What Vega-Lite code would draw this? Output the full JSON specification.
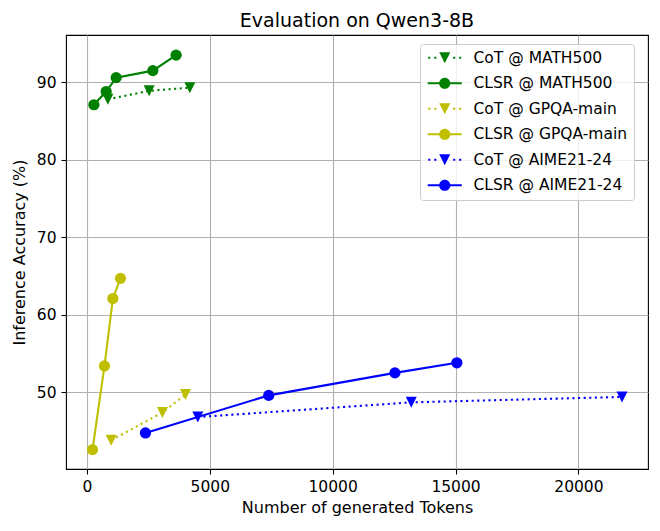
{
  "$schema": "https://vega.github.io/schema/vega-lite/v6.json",
  "width": 582,
  "height": 434,
  "autosize": {"type": "none"},
  "padding": {"left": 66, "top": 35, "right": 12, "bottom": 62},
  "background": "white",
  "title": {
    "text": "Evaluation on Qwen3-8B",
    "font": "DejaVu Sans",
    "fontSize": 19,
    "fontWeight": "normal",
    "color": "black",
    "anchor": "middle",
    "frame": "group",
    "baseline": "bottom",
    "offset": 4,
    "dy": 19
  },
  "config": {
    "view": {"stroke": "black", "strokeWidth": 1.1},
    "axis": {
      "domain": false,
      "grid": true,
      "gridColor": "#b0b0b0",
      "gridWidth": 1.1,
      "tickColor": "black",
      "tickWidth": 1.1,
      "tickSize": 5,
      "labelColor": "black",
      "labelFont": "DejaVu Sans",
      "labelFontSize": 15.5,
      "titleFont": "DejaVu Sans",
      "titleFontSize": 16,
      "titleFontWeight": "normal",
      "titleColor": "black"
    },
    "legend": {
      "orient": "none",
      "legendX": 354,
      "legendY": 9,
      "padding": 6,
      "fillColor": "rgba(255,255,255,0.8)",
      "strokeColor": "#cccccc",
      "cornerRadius": 3,
      "symbolSize": 196,
      "symbolStrokeWidth": 0,
      "symbolOpacity": 1,
      "symbolOffset": 11,
      "labelOffset": 21,
      "labelFont": "DejaVu Sans",
      "labelFontSize": 15.5,
      "labelColor": "black",
      "labelLimit": 300,
      "rowPadding": 8.5
    }
  },
  "data": {
    "values": [
      {"series": "CoT @ MATH500", "method": "CoT", "tokens": 854, "accuracy": 87.8},
      {"series": "CoT @ MATH500", "method": "CoT", "tokens": 2533, "accuracy": 88.9},
      {"series": "CoT @ MATH500", "method": "CoT", "tokens": 4187, "accuracy": 89.3},
      {"series": "CLSR @ MATH500", "method": "CLSR", "tokens": 285, "accuracy": 87.1},
      {"series": "CLSR @ MATH500", "method": "CLSR", "tokens": 785, "accuracy": 88.8},
      {"series": "CLSR @ MATH500", "method": "CLSR", "tokens": 1191, "accuracy": 90.6},
      {"series": "CLSR @ MATH500", "method": "CLSR", "tokens": 2683, "accuracy": 91.5},
      {"series": "CLSR @ MATH500", "method": "CLSR", "tokens": 3630, "accuracy": 93.5},
      {"series": "CoT @ GPQA-main", "method": "CoT", "tokens": 988, "accuracy": 43.8},
      {"series": "CoT @ GPQA-main", "method": "CoT", "tokens": 3075, "accuracy": 47.4},
      {"series": "CoT @ GPQA-main", "method": "CoT", "tokens": 4010, "accuracy": 49.7},
      {"series": "CLSR @ GPQA-main", "method": "CLSR", "tokens": 229, "accuracy": 42.6},
      {"series": "CLSR @ GPQA-main", "method": "CLSR", "tokens": 716, "accuracy": 53.4},
      {"series": "CLSR @ GPQA-main", "method": "CLSR", "tokens": 1057, "accuracy": 62.1},
      {"series": "CLSR @ GPQA-main", "method": "CLSR", "tokens": 1367, "accuracy": 64.7},
      {"series": "CoT @ AIME21-24", "method": "CoT", "tokens": 4512, "accuracy": 46.8},
      {"series": "CoT @ AIME21-24", "method": "CoT", "tokens": 13197, "accuracy": 48.7},
      {"series": "CoT @ AIME21-24", "method": "CoT", "tokens": 21772, "accuracy": 49.4},
      {"series": "CLSR @ AIME21-24", "method": "CLSR", "tokens": 2383, "accuracy": 44.75},
      {"series": "CLSR @ AIME21-24", "method": "CLSR", "tokens": 7398, "accuracy": 49.6},
      {"series": "CLSR @ AIME21-24", "method": "CLSR", "tokens": 12533, "accuracy": 52.5},
      {"series": "CLSR @ AIME21-24", "method": "CLSR", "tokens": 15053, "accuracy": 53.8}
    ]
  },
  "encoding": {
    "x": {
      "field": "tokens",
      "type": "quantitative",
      "title": "Number of generated Tokens",
      "scale": {"domain": [-850, 22830], "nice": false, "zero": false},
      "axis": {"values": [0, 5000, 10000, 15000, 20000], "format": "d", "labelPadding": 5, "titlePadding": 5}
    },
    "y": {
      "field": "accuracy",
      "type": "quantitative",
      "title": "Inference Accuracy (%)",
      "scale": {"domain": [40.1, 96.1], "nice": false, "zero": false},
      "axis": {"values": [50, 60, 70, 80, 90], "labelPadding": 5, "titlePadding": 9}
    }
  },
  "layer": [
    {
      "transform": [{"filter": "datum.method == 'CoT'"}],
      "mark": {"type": "line", "strokeWidth": 2.1, "strokeDash": [2.1, 3.5]},
      "encoding": {
        "stroke": {
          "field": "series", "type": "nominal", "legend": null,
          "scale": {"range": ["#0000ff", "#bfbf00", "#008000", "#0000ff", "#bfbf00", "#008000"]}
        }
      }
    },
    {
      "transform": [{"filter": "datum.method == 'CLSR'"}],
      "mark": {"type": "line", "strokeWidth": 2.1},
      "encoding": {"stroke": {"field": "series", "type": "nominal", "legend": null}}
    },
    {
      "transform": [{"filter": "datum.method == 'CoT'"}],
      "mark": {"type": "point", "filled": true, "opacity": 1, "shape": "M0,1L-1,-1L1,-1Z", "size": 121, "strokeWidth": 0},
      "encoding": {
        "fill": {
          "field": "series", "type": "nominal", "legend": null,
          "scale": {"range": ["#0000ff", "#bfbf00", "#008000", "#0000ff", "#bfbf00", "#008000"]}
        }
      }
    },
    {
      "transform": [{"filter": "datum.method == 'CLSR'"}],
      "mark": {"type": "point", "filled": true, "opacity": 1, "shape": "circle", "size": 126, "strokeWidth": 0},
      "encoding": {"fill": {"field": "series", "type": "nominal", "legend": null}}
    },
    {
      "mark": {"type": "point", "filled": true, "opacity": 0.001},
      "encoding": {
        "color": {
          "field": "series",
          "type": "nominal",
          "title": null,
          "scale": {
            "domain": ["CoT @ MATH500", "CLSR @ MATH500", "CoT @ GPQA-main", "CLSR @ GPQA-main", "CoT @ AIME21-24", "CLSR @ AIME21-24"],
            "range": ["#008000", "#008000", "#bfbf00", "#bfbf00", "#0000ff", "#0000ff"]
          }
        },
        "shape": {
          "field": "series",
          "type": "nominal",
          "title": null,
          "scale": {
            "domain": ["CoT @ MATH500", "CLSR @ MATH500", "CoT @ GPQA-main", "CLSR @ GPQA-main", "CoT @ AIME21-24", "CLSR @ AIME21-24"],
            "range": [
              "M-2.36,-0.15h0.3v0.3h-0.3ZM-1.5,-0.15h0.3v0.3h-0.3ZM1.2,-0.15h0.3v0.3h-0.3ZM2.06,-0.15h0.3v0.3h-0.3ZM0,0.79L-0.79,-0.79L0.79,-0.79Z",
              "M-2.43,-0.15H2.43V0.15H-2.43ZM0.8,0C0.8,0.4418 0.4418,0.8 0,0.8C-0.4418,0.8 -0.8,0.4418 -0.8,0C-0.8,-0.4418 -0.4418,-0.8 0,-0.8C0.4418,-0.8 0.8,-0.4418 0.8,0Z",
              "M-2.36,-0.15h0.3v0.3h-0.3ZM-1.5,-0.15h0.3v0.3h-0.3ZM1.2,-0.15h0.3v0.3h-0.3ZM2.06,-0.15h0.3v0.3h-0.3ZM0,0.79L-0.79,-0.79L0.79,-0.79Z",
              "M-2.43,-0.15H2.43V0.15H-2.43ZM0.8,0C0.8,0.4418 0.4418,0.8 0,0.8C-0.4418,0.8 -0.8,0.4418 -0.8,0C-0.8,-0.4418 -0.4418,-0.8 0,-0.8C0.4418,-0.8 0.8,-0.4418 0.8,0Z",
              "M-2.36,-0.15h0.3v0.3h-0.3ZM-1.5,-0.15h0.3v0.3h-0.3ZM1.2,-0.15h0.3v0.3h-0.3ZM2.06,-0.15h0.3v0.3h-0.3ZM0,0.79L-0.79,-0.79L0.79,-0.79Z",
              "M-2.43,-0.15H2.43V0.15H-2.43ZM0.8,0C0.8,0.4418 0.4418,0.8 0,0.8C-0.4418,0.8 -0.8,0.4418 -0.8,0C-0.8,-0.4418 -0.4418,-0.8 0,-0.8C0.4418,-0.8 0.8,-0.4418 0.8,0Z"
            ]
          }
        }
      }
    }
  ]
}
